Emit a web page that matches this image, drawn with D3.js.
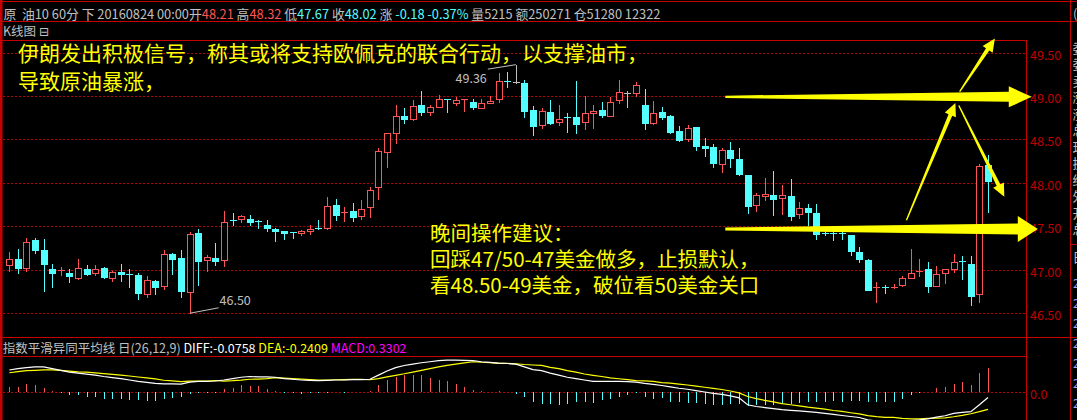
<!DOCTYPE html>
<html><head><meta charset="utf-8">
<script src="https://cdn.jsdelivr.net/npm/d3@7/dist/d3.min.js"></script>
<style>
html,body{margin:0;padding:0;background:#000;overflow:hidden}
svg{display:block}
text{font-family:'Noto Sans CJK SC','Noto Sans','DejaVu Sans',sans-serif;white-space:pre}
</style></head><body>
<svg id="c" width="1077" height="420"></svg>
<script>
// ---------- data ----------
const opens  = [47.05,47.13,47.02,47.34,47.23,47.01,46.99,46.96,46.91,47.01,46.96,47.02,46.91,46.98,46.95,46.94,46.72,46.87,46.81,47.18,47.14,46.75,47.42,47.11,47.14,47.11,47.57,47.58,47.58,47.56,47.52,47.47,47.45,47.43,47.42,47.45,47.48,47.48,47.75,47.65,47.68,47.62,47.72,47.95,48.36,48.57,48.77,48.73,48.90,48.81,48.87,48.96,48.92,48.95,48.93,48.86,48.92,48.96,49.17,49.16,49.15,48.84,48.67,48.82,48.70,48.76,48.76,48.70,48.80,48.84,48.77,48.95,49.03,49.03,48.90,48.69,48.81,48.77,48.60,48.50,48.64,48.43,48.41,48.22,48.38,48.27,48.09,47.75,47.85,47.86,47.83,47.85,47.64,47.71,47.65,47.42,47.42,47.42,47.40,47.20,47.11,46.79,46.80,46.79,46.82,46.91,46.98,47.01,46.81,46.96,47.01,47.10,47.07,46.72,48.21];
const highs  = [47.20,47.24,47.37,47.37,47.35,47.07,47.03,47.01,47.13,47.05,47.05,47.03,46.99,47.07,47.01,46.96,46.93,46.88,47.23,47.19,47.23,47.43,47.47,47.17,47.31,47.68,47.65,47.63,47.63,47.57,47.57,47.48,47.45,47.44,47.46,47.51,47.57,47.84,47.82,47.72,47.77,47.80,47.95,48.40,48.57,48.90,48.86,48.95,49.06,48.90,49.01,48.96,48.99,48.96,48.97,48.96,49.00,49.26,49.27,49.36,49.18,48.88,48.86,48.95,48.90,48.80,49.17,49.00,48.90,48.93,48.99,49.18,49.06,49.16,49.08,48.94,48.87,48.78,48.65,48.67,48.64,48.52,48.45,48.40,48.47,48.40,48.09,47.88,48.06,48.14,47.98,48.04,47.78,47.76,47.76,47.48,47.45,47.48,47.40,47.26,47.12,46.86,46.83,46.84,46.93,47.24,47.13,47.09,47.04,47.01,47.18,47.16,47.16,48.22,48.32];
const lows   = [46.99,46.96,46.99,47.19,46.76,46.80,46.94,46.86,46.90,46.94,46.94,46.91,46.87,46.87,46.80,46.67,46.69,46.72,46.78,46.95,46.69,46.50,46.83,46.99,47.05,47.04,47.51,47.55,47.51,47.48,47.45,47.33,47.36,47.37,47.40,47.41,47.47,47.47,47.57,47.56,47.56,47.58,47.61,47.82,48.18,48.46,48.69,48.72,48.78,48.78,48.87,48.82,48.90,48.83,48.85,48.86,48.92,48.93,49.10,49.15,48.76,48.55,48.63,48.68,48.67,48.59,48.57,48.62,48.63,48.76,48.77,48.92,48.87,49.00,48.62,48.68,48.73,48.57,48.48,48.48,48.38,48.31,48.18,48.13,48.18,48.09,47.65,47.68,47.80,47.63,47.64,47.57,47.60,47.52,47.35,47.40,47.34,47.36,47.17,47.09,46.77,46.63,46.73,46.79,46.81,46.91,46.93,46.74,46.81,46.85,46.98,46.90,46.60,46.63,47.67];
const closes = [47.12,47.02,47.32,47.23,47.07,46.96,47.00,46.93,47.02,46.95,47.01,46.92,46.97,46.95,46.94,46.73,46.88,46.80,47.18,47.13,46.76,47.41,47.10,47.15,47.10,47.55,47.56,47.62,47.55,47.55,47.48,47.45,47.42,47.42,47.45,47.47,47.47,47.74,47.63,47.66,47.61,47.70,47.92,48.37,48.57,48.77,48.74,48.88,48.82,48.87,48.96,48.95,48.95,48.96,48.87,48.92,48.94,49.17,49.16,49.16,48.83,48.66,48.83,48.69,48.74,48.75,48.68,48.80,48.83,48.78,48.93,49.05,49.03,49.13,48.69,48.80,48.76,48.59,48.49,48.63,48.43,48.40,48.23,48.38,48.29,48.10,47.73,47.86,47.87,47.81,47.86,47.62,47.71,47.67,47.41,47.41,47.41,47.41,47.22,47.13,46.77,46.80,46.79,46.80,46.91,46.96,46.99,46.81,46.95,47.01,47.09,47.09,46.70,48.20,48.02];

const diffs = [0.306,0.325,0.339,0.349,0.349,0.325,0.301,0.277,0.263,0.248,0.234,0.215,0.200,0.186,0.167,0.148,0.134,0.119,0.114,0.114,0.110,0.138,0.148,0.148,0.153,0.167,0.186,0.205,0.215,0.210,0.210,0.205,0.186,0.177,0.167,0.162,0.157,0.162,0.167,0.167,0.172,0.172,0.177,0.234,0.291,0.339,0.368,0.387,0.406,0.420,0.435,0.444,0.444,0.439,0.435,0.420,0.411,0.401,0.396,0.387,0.349,0.310,0.296,0.263,0.234,0.205,0.186,0.167,0.148,0.148,0.148,0.148,0.143,0.138,0.119,0.105,0.090,0.071,0.052,0.038,0.019,0.000,-0.020,-0.034,-0.053,-0.082,-0.177,-0.201,-0.216,-0.230,-0.244,-0.254,-0.263,-0.273,-0.283,-0.297,-0.311,-0.326,-0.340,-0.354,-0.387,-0.402,-0.407,-0.407,-0.407,-0.397,-0.388,-0.373,-0.350,-0.330,-0.297,-0.283,-0.273,-0.177,-0.0758];
const deas  = [0.267,0.282,0.296,0.301,0.306,0.306,0.301,0.290,0.280,0.275,0.265,0.255,0.245,0.235,0.222,0.208,0.196,0.183,0.163,0.155,0.145,0.150,0.152,0.152,0.160,0.152,0.157,0.165,0.177,0.180,0.186,0.200,0.193,0.187,0.179,0.172,0.164,0.167,0.170,0.172,0.175,0.175,0.170,0.186,0.210,0.232,0.253,0.277,0.300,0.325,0.350,0.370,0.387,0.405,0.420,0.413,0.409,0.397,0.398,0.392,0.382,0.375,0.370,0.342,0.324,0.296,0.275,0.250,0.232,0.215,0.195,0.184,0.171,0.157,0.155,0.147,0.130,0.122,0.110,0.097,0.082,0.066,0.050,0.035,0.014,-0.012,-0.062,-0.092,-0.116,-0.136,-0.162,-0.177,-0.192,-0.210,-0.224,-0.238,-0.257,-0.269,-0.288,-0.305,-0.328,-0.343,-0.352,-0.353,-0.365,-0.372,-0.372,-0.366,-0.364,-0.359,-0.344,-0.325,-0.302,-0.273,-0.2409];
const macds = [0.067,0.067,0.110,0.091,0.062,0.014,-0.019,-0.043,-0.043,-0.067,-0.067,-0.091,-0.091,-0.100,-0.115,-0.115,-0.124,-0.124,-0.091,-0.081,-0.067,-0.029,-0.014,-0.014,-0.019,0.038,0.062,0.091,0.077,0.077,0.043,0.010,-0.014,-0.019,-0.024,-0.019,-0.014,-0.010,-0.005,-0.010,-0.005,-0.005,0.014,0.091,0.163,0.210,0.234,0.234,0.234,0.196,0.172,0.148,0.115,0.067,0.029,0.014,0.005,0.010,-0.005,-0.024,-0.067,-0.139,-0.163,-0.163,-0.177,-0.163,-0.139,-0.139,-0.148,-0.115,-0.091,-0.067,-0.043,-0.019,-0.067,-0.091,-0.081,-0.139,-0.139,-0.148,-0.153,-0.163,-0.177,-0.177,-0.163,-0.163,-0.196,-0.186,-0.177,-0.186,-0.163,-0.163,-0.148,-0.139,-0.139,-0.139,-0.129,-0.139,-0.129,-0.129,-0.139,-0.139,-0.139,-0.139,-0.091,-0.043,-0.010,-0.005,0.053,0.076,0.110,0.134,0.091,0.268,0.3302];

const priceTicks = [46.5,47.0,47.5,48.0,48.5,49.0,49.5];
const priceTickLabels = ["46.50","47.00","47.50","48.00","48.50","49.00","49.50"];
const macdTicks = [0];
const macdTickLabels = ["0.0"];

const headerTexts = ["原  油10 60分 下 20160824 00:00开","48.21"," 高","48.32"," 低","47.67"," 收","48.02"," 涨 ","-0.18 -0.37%"," 量5215 额250271 仓51280 12322"];
const headerKinds = ["t","up","t","up","t","dn","t","dn","t","dn","t"];
const macdTitleTexts = ["指数平滑异同平均线 日(26,12,9) ","DIFF:-0.0758 ","DEA:-0.2409 ","MACD:0.3302"];
const panelTitle = "K线图 ⊟";
const noteTop = ["伊朗发出积极信号，称其或将支持欧佩克的联合行动，以支撑油市，","导致原油暴涨，"];
const noteMid = ["晚间操作建议：","回踩47/50-47美金做多，止损默认，","看48.50-49美金，破位看50美金关口"];
const extremeMarks = [{i:59, value:49.36, label:"49.36", kind:"high"},{i:21, value:46.50, label:"46.50", kind:"low"}];
// arrows in (bar index, price) coordinates: from -> to
const arrowFrom = [[83.4,48.99],[83.4,47.47],[104.5,47.57],[110.7,49.05],[110.6,48.89]];
const arrowTo   = [[119.1,48.99],[119.8,47.47],[110.2,48.92],[114.8,49.66],[115.9,47.84]];
const sideChars = ["委","委","卖","涨","涨","总","现","换","结","外","开","总"];

// ---------- layout / style ----------
const W = 1077, H = 420;
const RED = "#ff5454", CYAN = "#54ffff", GRAY = "#c0c0c0", FRAME = "#c80000", LABEL = "#c00000", YEL = "#ffff00";
const svg = d3.select("#c");
svg.append("rect").attr("width",W).attr("height",H).attr("fill","#000");

const x = d3.scaleLinear().domain([0, opens.length-1]).range([9.3, 988]);
const y = d3.scaleLinear().domain([46.5, 49.5]).range([313.3, 52.5]);
const ym = d3.scaleLinear().domain([0, 1]).range([392, 320]);
const px = v => Math.round(v) + 0.5;

// frame lines
const frame = svg.append("g").attr("stroke", FRAME).attr("stroke-width",1).attr("shape-rendering","crispEdges");
[[0,1.5,W,1.5],[0,21.5,W,21.5],[0,40.5,1026,40.5],[0,337.5,W,337.5],[0,356.5,1026,356.5],
 [1026.5,40,1026.5,H],[1070.5,0,1070.5,H],[1070,244.5,W,244.5]].forEach(l=>{
  frame.append("line").attr("x1",l[0]).attr("y1",l[1]).attr("x2",l[2]).attr("y2",l[3]);
});
svg.append("rect").attr("x",0).attr("y",0).attr("width",2.5).attr("height",H).attr("fill",FRAME);

// header
const kindColor = {t:GRAY, up:RED, dn:CYAN};
const ht = svg.append("text").attr("x",3.4).attr("y",12.5).attr("dominant-baseline","central")
  .attr("font-size",12.8).attr("xml:space","preserve");
ht.selectAll("tspan").data(headerTexts).join("tspan")
  .attr("fill",(d,i)=>kindColor[headerKinds[i]]).text(d=>d);
svg.append("text").attr("x",1073).attr("y",12.5).attr("dominant-baseline","central")
  .attr("font-size",12.5).attr("fill",GRAY).text("(");
svg.append("text").attr("x",3).attr("y",30.5).attr("dominant-baseline","central")
  .attr("font-size",12.5).attr("fill",GRAY).text(panelTitle);

// side column
svg.append("g").selectAll("text").data(sideChars).join("text")
  .attr("x",1072.5).attr("y",(d,i)=>47+i*16.5).attr("dominant-baseline","central")
  .attr("font-size",13).attr("fill",GRAY).text(d=>d);
svg.append("text").attr("x",1072.5).attr("y",256).attr("dominant-baseline","central")
  .attr("font-size",13).attr("fill",GRAY).text("日");
svg.append("g").selectAll("text").data(d3.range(7)).join("text")
  .attr("x",1073).attr("y",(d,i)=>282+i*20).attr("dominant-baseline","central")
  .attr("font-size",12).attr("fill","#a0a0ff").text("2");

// grid
svg.append("g").selectAll("line").data(priceTicks).join("line")
  .attr("x1",3).attr("x2",1026).attr("y1",d=>px(y(d))).attr("y2",d=>px(y(d)))
  .attr("stroke","#b40000").attr("stroke-dasharray","2,2").attr("shape-rendering","crispEdges");

// price axis
const ax = svg.append("g").attr("transform","translate(1026,2.5)")
  .call(d3.axisRight(y).tickValues(priceTicks).tickSize(0).tickPadding(4)
        .tickFormat((d,i)=>priceTickLabels[i]));
ax.select(".domain").remove();
ax.selectAll("text").attr("fill",LABEL).attr("font-size",12.5)
  .attr("font-family","'Noto Sans','DejaVu Sans',sans-serif");

// candles
const cg = svg.append("g").attr("shape-rendering","crispEdges");
const idx = d3.range(opens.length);
const colorOf = i => closes[i] > opens[i] ? RED : (closes[i] < opens[i] ? CYAN : GRAY);
idx.forEach(i=>{
  const cx = px(x(i)), c = colorOf(i);
  cg.append("line").attr("x1",cx).attr("x2",cx).attr("y1",Math.round(y(highs[i]))).attr("y2",Math.round(y(lows[i]))+1)
    .attr("stroke",c);
  const yo = Math.round(y(opens[i])), yc = Math.round(y(closes[i]));
  const top = Math.min(yo,yc), bot = Math.max(yo,yc);
  if (bot - top < 2) {
    cg.append("line").attr("x1",cx-3.5).attr("x2",cx+3.5).attr("y1",top+0.5).attr("y2",top+0.5).attr("stroke",c);
  } else if (c === RED) {
    cg.append("rect").attr("x",cx-3).attr("y",top+0.5).attr("width",6).attr("height",bot-top)
      .attr("fill","#000").attr("stroke",RED);
  } else {
    cg.append("rect").attr("x",cx-3.5).attr("y",top).attr("width",7).attr("height",bot-top+1).attr("fill",c);
  }
});

// extreme marks
extremeMarks.forEach(m=>{
  const ex = x(m.i), ey = y(m.value);
  if (m.kind === "high") {
    svg.append("line").attr("x1",ex-28).attr("y1",ey+4.5).attr("x2",ex).attr("y2",ey).attr("stroke",GRAY);
    svg.append("text").attr("x",ex-29).attr("y",ey+12.5).attr("text-anchor","end").attr("dominant-baseline","central")
      .attr("font-size",12.5).attr("fill",GRAY).attr("font-family","'Noto Sans',sans-serif").text(m.label);
  } else {
    svg.append("line").attr("x1",ex).attr("y1",ey).attr("x2",ex+29).attr("y2",ey-5.5).attr("stroke",GRAY);
    svg.append("text").attr("x",ex+30).attr("y",ey-14).attr("dominant-baseline","central")
      .attr("font-size",12.5).attr("fill",GRAY).attr("font-family","'Noto Sans',sans-serif").text(m.label);
  }
});

// MACD panel
const tcol = [GRAY,"#ffffff",YEL,"#ff00ff"];
const mt = svg.append("text").attr("x",2.8).attr("y",346.5).attr("dominant-baseline","central")
  .attr("font-size",12.5).attr("xml:space","preserve");
mt.selectAll("tspan").data(macdTitleTexts).join("tspan").attr("fill",(d,i)=>tcol[i]).text(d=>d);

svg.append("defs").append("clipPath").attr("id","mclip").append("rect")
  .attr("x",3).attr("y",357).attr("width",1023).attr("height",H-357);
const mg = svg.append("g").attr("clip-path","url(#mclip)");
mg.append("line").attr("x1",3).attr("x2",1026).attr("y1",px(ym(0))).attr("y2",px(ym(0)))
  .attr("stroke","#b40000").attr("stroke-dasharray","2,2").attr("shape-rendering","crispEdges");
mg.append("g").attr("shape-rendering","crispEdges").selectAll("line").data(idx).join("line")
  .attr("x1",i=>px(x(i))).attr("x2",i=>px(x(i)))
  .attr("y1",Math.round(ym(0))).attr("y2",i=>Math.round(ym(macds[i])))
  .attr("stroke",i=>macds[i] >= 0 ? RED : CYAN);
const lineGen = arr => d3.line().x(i=>x(i)).y(i=>ym(arr[i]))(idx);
mg.append("path").attr("d",lineGen(deas)).attr("fill","none").attr("stroke",YEL).attr("stroke-width",1.2);
mg.append("path").attr("d",lineGen(diffs)).attr("fill","none").attr("stroke","#ffffff").attr("stroke-width",1.2);

const max = svg.append("g").attr("transform","translate(1026,2.5)")
  .call(d3.axisRight(ym).tickValues(macdTicks).tickSize(0).tickPadding(4).tickFormat((d,i)=>macdTickLabels[i]));
max.select(".domain").remove();
max.selectAll("text").attr("fill",LABEL).attr("font-size",12.5).attr("font-family","'Noto Sans',sans-serif");

// arrows
function arrowPoly(p0, p1, w0, w1, L, Hh) {
  const dx = p1[0]-p0[0], dy = p1[1]-p0[1], len = Math.hypot(dx,dy);
  const ux = dx/len, uy = dy/len, nx = -uy, ny = ux;
  const bx = p1[0]-ux*L, by = p1[1]-uy*L;
  return [[p0[0]+nx*w0,p0[1]+ny*w0],[bx+nx*w1,by+ny*w1],[bx+nx*Hh,by+ny*Hh],[p1[0],p1[1]],
          [bx-nx*Hh,by-ny*Hh],[bx-nx*w1,by-ny*w1],[p0[0]-nx*w0,p0[1]-ny*w0]];
}
const arrowShape = [[1.2,5,23,10.5],[1.5,5.5,20,13],[0.7,2,13,6],[0.7,2,13,6],[0.7,2,13,6]];
arrowFrom.forEach((f,k)=>{
  const p0 = [x(f[0]), y(f[1])], p1 = [x(arrowTo[k][0]), y(arrowTo[k][1])];
  const s = arrowShape[k];
  svg.append("polygon").attr("points",arrowPoly(p0,p1,s[0],s[1],s[2],s[3]).map(p=>p.join(",")).join(" "))
    .attr("fill",YEL);
});

// notes
svg.append("g").selectAll("text").data(noteTop).join("text")
  .attr("x",18).attr("y",(d,i)=>52+i*28).attr("dominant-baseline","central")
  .attr("font-size",21).attr("fill",YEL).text(d=>d);
svg.append("g").selectAll("text").data(noteMid).join("text")
  .attr("x",430).attr("y",(d,i)=>232+i*26).attr("dominant-baseline","central")
  .attr("font-size",20.5).attr("fill",YEL).text(d=>d);
</script>
</body></html>
